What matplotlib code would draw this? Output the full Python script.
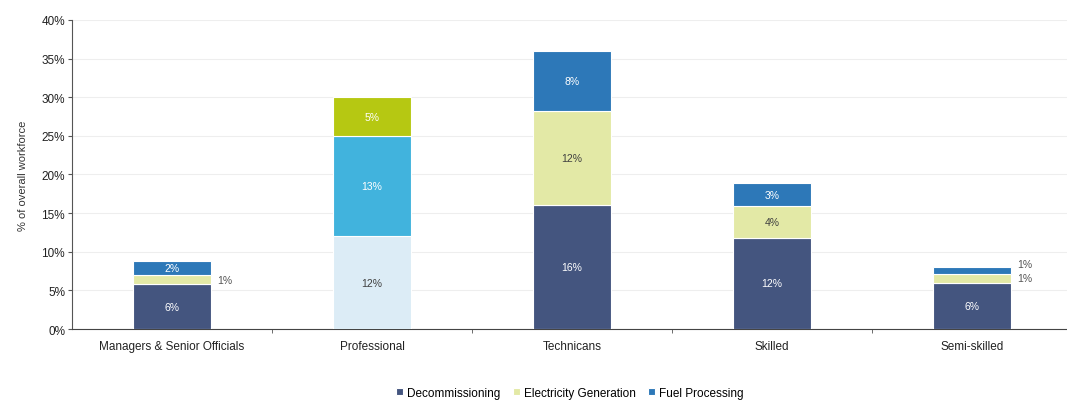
import numpy as np
import matplotlib.pyplot as plt

plt.rcParams['font.family'] = ['Liberation Sans', 'DejaVu Sans']

categories = ['Managers & Senior Officials', 'Professional', 'Technicans', 'Skilled', 'Semi-skilled']
series = ['Decommissioning', 'Electricity Generation', 'Fuel Processing']
decommissioning = [5.8, 12.0, 16.0, 11.8, 6.0]
electricity = [1.2, 13.0, 12.2, 4.1, 1.1]
fuel = [1.8, 5.0, 7.8, 3.0, 0.9]
labels = [['6%', '12%', '16%', '12%', '6%'],
          ['1%', '13%', '12%', '4%', '1%'],
          ['2%', '5%', '8%', '3%', '1%']]

colors = ['#44557f', '#e3e9a6', '#2d78b8']
# the Professional bar is drawn in its own palette
prof_colors = ['#dcecf6', '#41b3dd', '#b6c812']
txt_colors = ['white', '#404040', 'white']
prof_txt = ['#404040', 'white', 'white']

fig, ax = plt.subplots(figsize=(10.67, 4.02), dpi=100)
fig.subplots_adjust(left=0.0675, right=1.0, bottom=0.179, top=0.948)

x = np.arange(len(categories))
w = 0.39
bottom = np.zeros(len(categories))
data = [decommissioning, electricity, fuel]
for s in range(3):
    vals = np.array(data[s])
    cols = [prof_colors[s] if i == 1 else colors[s] for i in range(len(x))]
    ax.bar(x, vals, w, bottom=bottom, color=cols, edgecolor='white', linewidth=0.8,
           label=series[s], zorder=3)
    for i in range(len(x)):
        yc = bottom[i] + vals[i] / 2
        tc = prof_txt[s] if i == 1 else txt_colors[s]
        if vals[i] < 1.5 and not (i == 0 and s == 2):
            # small segments labelled beside the bar
            yy = yc
            if i == 4 and s == 2:
                yy = yc + 0.9
            ax.text(x[i] + w / 2 + 0.03, yy, labels[s][i], ha='left', va='center',
                    fontsize=7.5, color='#555555')
        else:
            ax.text(x[i], yc, labels[s][i], ha='center', va='center', fontsize=7.5,
                    color=tc, zorder=4)
    bottom += vals

ax.set_xlim(-0.5, 4.475)
ax.set_ylim(0, 40)
ax.set_yticks(np.arange(0, 41, 5))
ax.set_yticklabels([f'{v}%' for v in range(0, 41, 5)], fontsize=8.5, color='#222222')
ax.yaxis.grid(True, color='#eeeeee', linewidth=0.8, zorder=0)
ax.set_xticks(x)
ax.set_xticklabels(categories, fontsize=8.5, color='#222222')
ax.tick_params(axis='x', length=0, pad=8)
ax.set_xticks(np.arange(0.5, 4.5, 1), minor=True)
ax.tick_params(axis='x', which='minor', length=3, color='#555555')
ax.tick_params(axis='y', length=3, color='#555555', pad=2)
for sp in ['top', 'right']:
    ax.spines[sp].set_visible(False)
ax.spines['left'].set_color('#555555')
ax.spines['bottom'].set_color('#444444')
ax.set_ylabel('% of overall workforce', fontsize=8, color='#333333', labelpad=10)

fig.legend(loc='lower center', bbox_to_anchor=(0.534, -0.015), ncol=3, frameon=False,
           fontsize=8.5, handlelength=0.6, handleheight=0.6, handletextpad=0.3,
           columnspacing=1.1, borderpad=0.2)

plt.savefig('out.png', dpi=100)
